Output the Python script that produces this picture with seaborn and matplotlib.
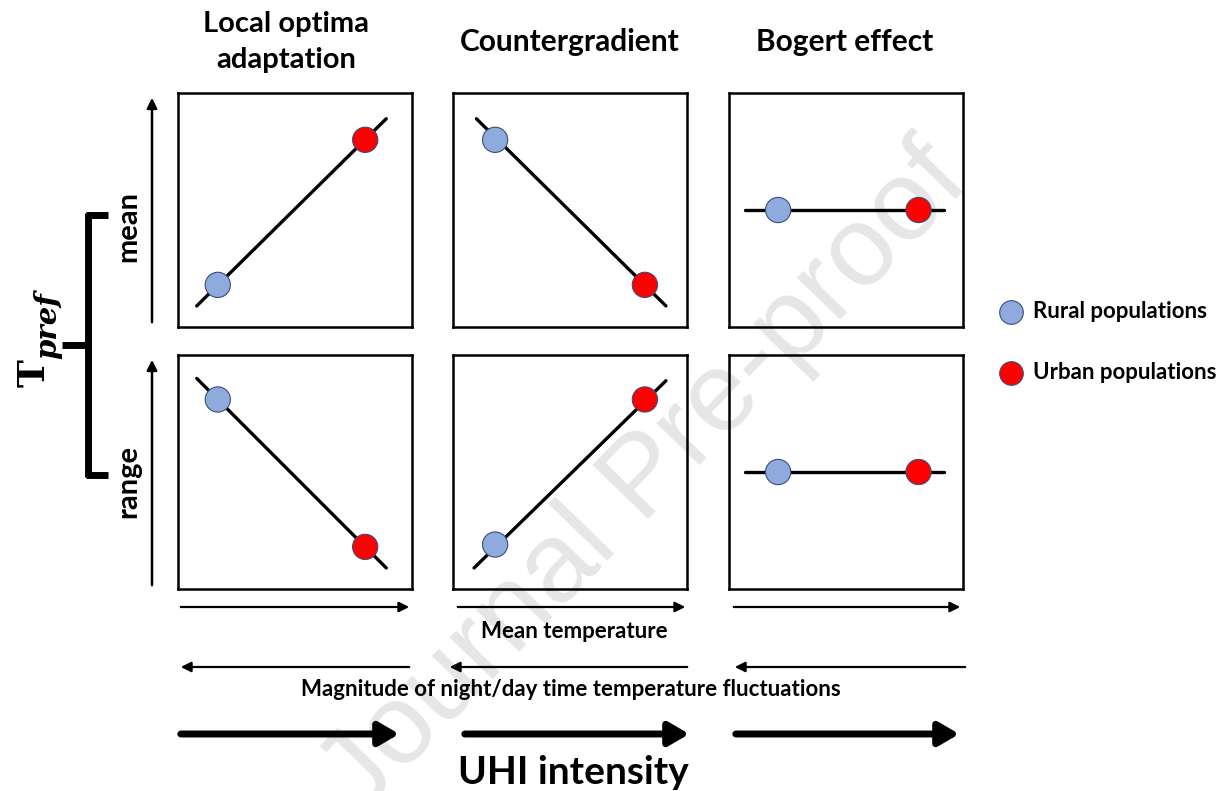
import numpy as np
import pandas as pd
import matplotlib
matplotlib.use("Agg")
import matplotlib.pyplot as plt
import seaborn as sns

# Conceptual panels: rows = Tpref mean / range, cols = mechanism
col_titles = ["Local optima\nadaptation", "Countergradient", "Bogert effect"]
row_labels = ["mean", "range"]

# per panel (row-major): rural / urban positions and the trend line ends
rural_x = [0.17, 0.18, 0.21, 0.17, 0.18, 0.21]
rural_y = [0.18, 0.80, 0.50, 0.81, 0.19, 0.50]
urban_x = [0.80, 0.82, 0.81, 0.80, 0.82, 0.81]
urban_y = [0.80, 0.18, 0.50, 0.18, 0.81, 0.50]
line_x0 = [0.08, 0.10, 0.07, 0.08, 0.09, 0.07]
line_y0 = [0.09, 0.89, 0.50, 0.90, 0.09, 0.50]
line_x1 = [0.89, 0.91, 0.92, 0.89, 0.91, 0.92]
line_y1 = [0.89, 0.09, 0.50, 0.09, 0.89, 0.50]

legend_labels = ["Rural populations", "Urban populations"]
rural_color = "#8FAADC"
urban_color = "#FF0000"
edge_color = "#3A4E7A"

sns.set_theme(style="white")
plt.rcParams["font.family"] = ["Lato", "DejaVu Sans"]
plt.rcParams["text.color"] = "black"

W, H = 1227, 791
fig = plt.figure(figsize=(W / 100, H / 100), dpi=100)


def fx(x, y):
    return (x / W, 1 - y / H)


col_left = [178, 453, 729]
row_top = [93, 355]
size = 234

for i in range(6):
    r, c = divmod(i, 3)
    ax = fig.add_axes([col_left[c] / W, 1 - (row_top[r] + size) / H, size / W, size / H])
    ax.set_facecolor("none")
    line_df = pd.DataFrame({"x": [line_x0[i], line_x1[i]], "y": [line_y0[i], line_y1[i]]})
    sns.lineplot(data=line_df, x="x", y="y", ax=ax, color="black", lw=2.4, zorder=2)
    pts = pd.DataFrame({"x": [rural_x[i], urban_x[i]], "y": [rural_y[i], urban_y[i]],
                        "pop": legend_labels})
    sns.scatterplot(data=pts, x="x", y="y", hue="pop", ax=ax, s=330,
                    palette=[rural_color, urban_color], edgecolor=edge_color,
                    linewidth=0.8, legend=False, zorder=3)
    ax.set_xlim(0, 1)
    ax.set_ylim(0, 1)
    ax.set_xticks([])
    ax.set_yticks([])
    ax.set_xlabel("")
    ax.set_ylabel("")
    for sp in ax.spines.values():
        sp.set_visible(True)
        sp.set_color("black")
        sp.set_linewidth(1.8)

# column titles
fig.text(*fx(286, 42), col_titles[0], ha="center", va="center", fontsize=21,
         fontweight="bold", linespacing=1.45)
fig.text(*fx(570, 42), col_titles[1], ha="center", va="center", fontsize=21.5, fontweight="bold")
fig.text(*fx(845, 42), col_titles[2], ha="center", va="center", fontsize=21.5, fontweight="bold")

# vertical axis arrows and row labels
for top, bot, lab, ly in [(95, 325, row_labels[0], 226), (357, 588, row_labels[1], 482)]:
    fig.add_artist(matplotlib.patches.FancyArrowPatch(
        fx(152, bot), fx(152, top), transform=fig.transFigure,
        arrowstyle="-|>,head_length=6,head_width=3", lw=1.8, color="black"))
    fig.text(*fx(128, ly), lab, rotation=90, ha="center", va="center",
             fontsize=21, fontweight="bold")

# bracket for Tpref
bracket = dict(color="black", lw=5, solid_capstyle="butt", transform=fig.transFigure)
fig.add_artist(matplotlib.lines.Line2D(*zip(fx(88, 213), fx(88, 477)), **bracket))
fig.add_artist(matplotlib.lines.Line2D(*zip(fx(86, 215), fx(108, 215)), **bracket))
fig.add_artist(matplotlib.lines.Line2D(*zip(fx(86, 475), fx(108, 475)), **bracket))
fig.add_artist(matplotlib.lines.Line2D(*zip(fx(62, 345), fx(88, 345)), **bracket))
fig.text(*fx(34, 373), "T", rotation=90, ha="center", va="center",
         fontsize=27, fontweight="bold", fontfamily="DejaVu Serif")
fig.text(*fx(48, 326), "pref", rotation=90, ha="center", va="center",
         fontsize=21, fontweight="bold", fontstyle="italic", fontfamily="DejaVu Serif")

# horizontal gradient arrows
for (a, b) in [(178, 412), (455, 688), (731, 963)]:
    fig.add_artist(matplotlib.patches.FancyArrowPatch(
        fx(a, 607), fx(b, 607), transform=fig.transFigure,
        arrowstyle="-|>,head_length=6,head_width=3", lw=1.6, color="black"))
fig.text(*fx(574, 632), "Mean temperature", ha="center", va="center",
         fontsize=16, fontweight="bold")

for (a, b) in [(178, 412), (447, 690), (732, 968)]:
    fig.add_artist(matplotlib.patches.FancyArrowPatch(
        fx(b, 667), fx(a, 667), transform=fig.transFigure,
        arrowstyle="-|>,head_length=6,head_width=3", lw=1.6, color="black"))
fig.text(*fx(571, 690), "Magnitude of night/day time temperature fluctuations",
         ha="center", va="center", fontsize=16, fontweight="bold")

for (a, b) in [(178, 402), (462, 692), (733, 962)]:
    fig.add_artist(matplotlib.patches.FancyArrowPatch(
        fx(a, 734), fx(b, 734), transform=fig.transFigure,
        arrowstyle="-|>,head_length=12,head_width=7", lw=5, color="black"))
fig.text(*fx(573, 772), "UHI intensity", ha="center", va="center",
         fontsize=28, fontweight="bold")

# legend
fig.add_artist(matplotlib.lines.Line2D([1011 / W], [1 - 312 / H], marker="o", markersize=17,
               markerfacecolor=rural_color, markeredgecolor=edge_color, markeredgewidth=0.8,
               transform=fig.transFigure))
fig.add_artist(matplotlib.lines.Line2D([1011 / W], [1 - 373 / H], marker="o", markersize=17,
               markerfacecolor=urban_color, markeredgecolor=edge_color, markeredgewidth=0.8,
               transform=fig.transFigure))
fig.text(*fx(1033, 312), legend_labels[0], ha="left", va="center", fontsize=16, fontweight="bold")
fig.text(*fx(1033, 373), legend_labels[1], ha="left", va="center", fontsize=16, fontweight="bold")

# watermark
fig.text(*fx(645, 480), "Journal Pre-proof", rotation=46, ha="center", va="center",
         fontsize=82, color="#E6E6E6", zorder=-1, fontfamily="Liberation Sans")

fig.savefig("out.png", dpi=100, facecolor="white")
